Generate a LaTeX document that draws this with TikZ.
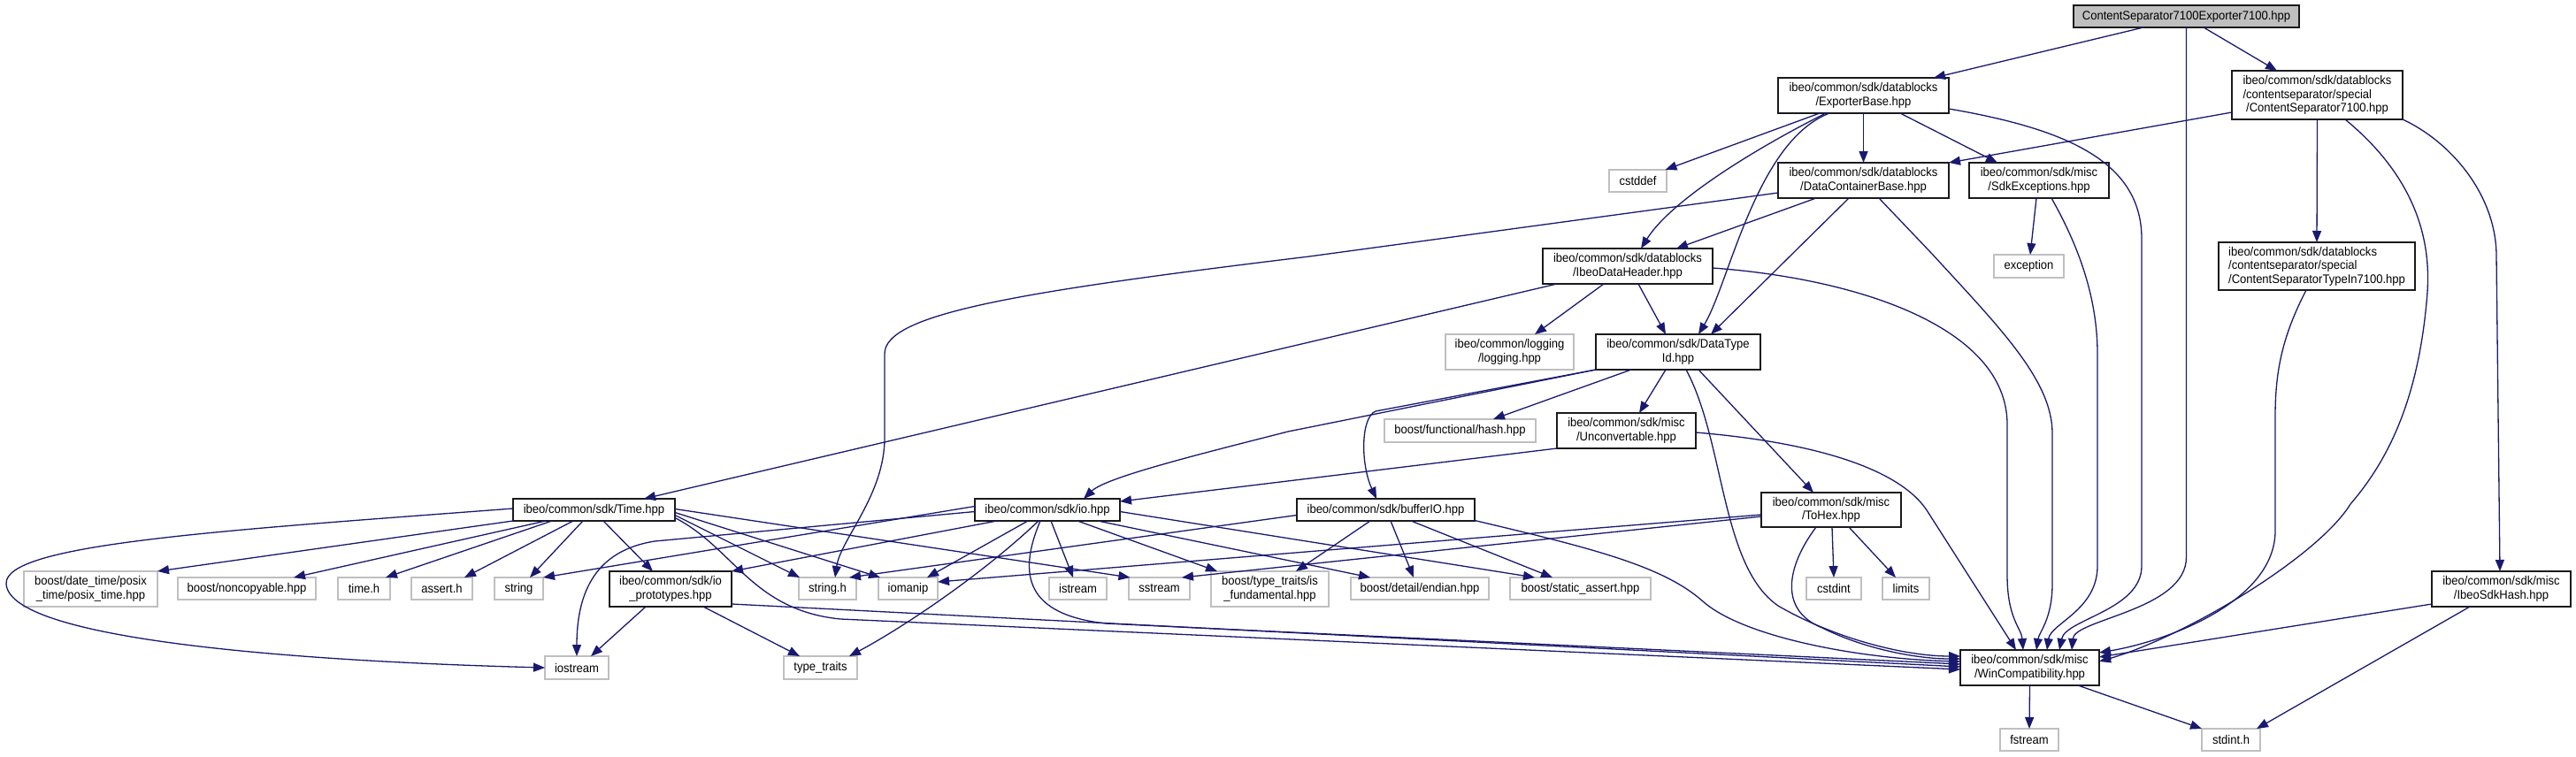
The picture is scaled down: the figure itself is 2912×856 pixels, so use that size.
\documentclass[tikz,border=0pt]{standalone}
\usepackage{fontspec}
\setmainfont{Liberation Sans}[FakeStretch=0.93]
\usetikzlibrary{arrows.meta}
\definecolor{edgec}{HTML}{191970}
\definecolor{extc}{HTML}{BFBFBF}
\definecolor{rootc}{HTML}{BFBFBF}
\definecolor{docc}{HTML}{1A1A1A}
\tikzset{
  box/.style={rectangle, inner sep=0pt, outer sep=0pt, align=center, fill=white,
    font=\fontsize{14}{15.4}\selectfont},
  doc/.style={box, draw=docc, line width=1.6pt},
  ext/.style={box, draw=extc, line width=1.6pt},
  sz/.style 2 args={minimum width=#1pt, minimum height=#2pt},
  e/.style={draw=edgec, line width=1.3pt, -{Triangle[length=13pt,width=10pt]}},
}
\begin{document}
\begin{tikzpicture}[x=1pt,y=-1pt]
\fill[white] (0,0) rectangle (2912,856);
\useasboundingbox (0,0) rectangle (2912,856);
% ---------------- nodes
\node[doc, fill=rootc, sz={255}{25}] (root) at (2471.5,18.5) {ContentSeparator7100Exporter7100.hpp};
\node[doc, sz={193}{40}] (exb) at (2106.5,108) {ibeo/common/sdk/datablocks\\/ExporterBase.hpp};
\node[doc, sz={193}{55}, align=left] (cs) at (2619.5,107.5) {ibeo/common/sdk/datablocks\\/contentseparator/special\\\ /ContentSeparator7100.hpp};
\node[doc, sz={193}{40}] (dcb) at (2106.5,204) {ibeo/common/sdk/datablocks\\/DataContainerBase.hpp};
\node[doc, sz={158}{40}] (sdkex) at (2305,204) {ibeo/common/sdk/misc\\/SdkExceptions.hpp};
\node[ext, sz={65}{25}] (cstddef) at (1851.5,204.5) {cstddef};
\node[doc, sz={192}{40}] (idh) at (1840,301) {ibeo/common/sdk/datablocks\\/IbeoDataHeader.hpp};
\node[ext, sz={79}{26}] (exc) at (2293.5,301) {exception};
\node[doc, sz={222}{54}, align=left] (csti) at (2619,301) {ibeo/common/sdk/datablocks\\/contentseparator/special\\/ContentSeparatorTypeIn7100.hpp};
\node[ext, sz={145}{40}] (logging) at (1706.5,398) {ibeo/common/logging\\/logging.hpp};
\node[doc, sz={186}{40}] (dti) at (1897,398) {ibeo/common/sdk/DataType\\Id.hpp};
\node[ext, sz={171}{26}] (fhash) at (1650.5,487) {boost/functional/hash.hpp};
\node[doc, sz={157}{40}] (unconv) at (1838.5,487) {ibeo/common/sdk/misc\\/Unconvertable.hpp};
\node[doc, sz={183}{25}] (time) at (671.5,576.5) {ibeo/common/sdk/Time.hpp};
\node[doc, sz={164}{25}] (io) at (1184,576.5) {ibeo/common/sdk/io.hpp};
\node[doc, sz={201}{25}] (bufio) at (1566.5,576.5) {ibeo/common/sdk/bufferIO.hpp};
\node[doc, sz={158}{39}] (tohex) at (2070,576.5) {ibeo/common/sdk/misc\\/ToHex.hpp};
\node[ext, sz={151}{40}] (dt) at (102.5,666) {boost/date\_time/posix\\\_time/posix\_time.hpp};
\node[ext, sz={156}{25}] (nonc) at (279,665.5) {boost/noncopyable.hpp};
\node[ext, sz={59}{25}] (timeh) at (411.5,665.5) {time.h};
\node[ext, sz={69}{25}] (asserth) at (499.5,665.5) {assert.h};
\node[ext, sz={55}{25}] (string) at (586.5,665.5) {string};
\node[doc, sz={138}{40}] (iop) at (758,666) {ibeo/common/sdk/io\\\_prototypes.hpp};
\node[ext, sz={65}{25}] (stringh) at (935.5,665.5) {string.h};
\node[ext, sz={67}{25}] (iomanip) at (1026.5,665.5) {iomanip};
\node[ext, sz={65}{25}] (istream) at (1218.5,665.5) {istream};
\node[ext, sz={69}{25}] (sstream) at (1310.5,665.5) {sstream};
\node[ext, sz={133}{40}] (isfund) at (1435.5,666) {boost/type\_traits/is\\\_fundamental.hpp};
\node[ext, sz={156}{25}] (endian) at (1605,665.5) {boost/detail/endian.hpp};
\node[ext, sz={159}{25}] (sassert) at (1786.5,665.5) {boost/static\_assert.hpp};
\node[ext, sz={62}{25}] (cstdint) at (2073,665.5) {cstdint};
\node[ext, sz={53}{25}] (limits) at (2154.5,665.5) {limits};
\node[doc, sz={157}{40}] (ish) at (2827.5,666) {ibeo/common/sdk/misc\\/IbeoSdkHash.hpp};
\node[ext, sz={72}{26}] (iostream) at (652,755) {iostream};
\node[ext, sz={83}{26}] (tt) at (927.5,755) {type\_traits};
\node[doc, sz={157}{40}] (wc) at (2294.5,755) {ibeo/common/sdk/misc\\/WinCompatibility.hpp};
\node[ext, sz={66}{25}] (fstream) at (2294,836.5) {fstream};
\node[ext, sz={66}{25}] (stdinth) at (2522,836.5) {stdint.h};
% ---------------- edges
% root
\draw[e] ([xshift=-48.5pt]root.south) -- ([xshift=79.5pt]exb.north);
\draw[e] ([xshift=19.5pt]root.south) -- ([xshift=-45.5pt]cs.north);
\draw[e] (root.south) -- (2471.5,630) .. controls (2471.5,690) and (2345,700) .. ([xshift=47.5pt]wc.north);
% exb
\draw[e] ([xshift=-49.5pt]exb.south) -- ([xshift=31pt]cstddef.north);
\draw[e] ([xshift=-42.5pt]exb.south) .. controls (1990,165) and (1890,225) .. ([xshift=15pt]idh.north);
\draw[e] ([xshift=-38.5pt]exb.south) .. controls (1985,160) and (1955,320) .. ([xshift=23pt]dti.north);
\draw[e] (exb.south) -- (dcb.north);
\draw[e] ([xshift=41.5pt]exb.south) -- ([xshift=-47pt]sdkex.north);
\draw[e] ([yshift=-15pt]exb.east) .. controls (2330,145) and (2421,180) .. (2421,270) -- (2421,640) .. controls (2421,690) and (2335,700) .. ([xshift=33.5pt]wc.north);
% cs
\draw[e] ([yshift=-19.5pt]cs.west) -- (dcb.north east);
\draw[e] (cs.south) -- (csti.north);
\draw[e] ([xshift=31.5pt]cs.south) .. controls (2730,200) and (2748,270) .. (2744,330) .. controls (2735,450) and (2700,520) .. (2657,570) .. controls (2620,630) and (2470,720) .. ([yshift=7pt]wc.east);
\draw[e] (cs.south east) .. controls (2770,160) and (2822,220) .. (2822,290) -- ([xshift=-1.5pt]ish.north);
% dcb
\draw[e] ([xshift=-53.5pt]dcb.south) -- ([xshift=55pt]idh.north);
\draw[e] ([xshift=-16.5pt]dcb.south) -- ([xshift=37pt]dti.north);
\draw[e] ([yshift=-14pt]dcb.west) -- (1480,290) .. controls (1150,330) and (1000,355) .. (1000,400) -- (1000,495) .. controls (1000,560) and (950,610) .. ([xshift=8.5pt]stringh.north);
\draw[e] ([xshift=17.5pt]dcb.south) -- (2184,287) .. controls (2260,370) and (2320,430) .. (2320,490) -- (2320,660) .. controls (2320,700) and (2305,715) .. ([xshift=7.5pt]wc.north);
% sdkex
\draw[e] ([xshift=-3pt]sdkex.south) -- ([xshift=1.5pt]exc.north);
\draw[e] ([xshift=14pt]sdkex.south) .. controls (2345,270) and (2371,330) .. (2371,400) -- (2371,640) .. controls (2371,690) and (2318,705) .. ([xshift=19.5pt]wc.north);
% idh
\draw[e] ([xshift=-27pt]idh.south) -- ([xshift=28.5pt]logging.north);
\draw[e] ([xshift=12pt]idh.south) -- ([xshift=-14pt]dti.north);
\draw[e] ([xshift=-80pt]idh.south) -- ([xshift=56.5pt]time.north);
\draw[e] ([yshift=-2pt]idh.east) .. controls (2100,315) and (2269,370) .. (2269,480) -- (2269,650) .. controls (2269,700) and (2285,710) .. ([xshift=-7.5pt]wc.north);
% csti
\draw[e] ([xshift=-12pt]csti.south) .. controls (2580,380) and (2572,420) .. (2572,470) -- (2572,600) .. controls (2572,680) and (2450,725) .. ([yshift=17pt]wc.east);
% ish
\draw[e] ([yshift=-17pt]ish.west) -- ([yshift=12pt]wc.east);
\draw[e] ([xshift=-35.5pt]ish.south) -- ([xshift=29pt]stdinth.north);
% wc
\draw[e] (wc.south) -- (fstream.north);
\draw[e] ([xshift=54.5pt]wc.south) -- (stdinth.north west);
% dti
\draw[e] ([xshift=-53pt]dti.south) -- ([xshift=37.5pt]fhash.north);
\draw[e] ([xshift=-14pt]dti.south) -- ([xshift=14.5pt]unconv.north);
\draw[e] ([xshift=23pt]dti.south) -- ([xshift=-20pt]tohex.north);
\draw[e] ([xshift=9pt]dti.south) .. controls (1950,500) and (1945,640) .. (2010,685) .. controls (2070,720) and (2150,742) .. ([yshift=13pt]wc.west);
\draw[e] (dti.south west) -- (1456,488) .. controls (1350,515) and (1250,540) .. ([xshift=41pt]io.north);
\draw[e] (dti.south west) -- (1555,465) .. controls (1538,472) and (1538,525) .. ([xshift=-10.5pt]bufio.north);
% unconv
\draw[e] (unconv.south west) -- ([yshift=9.5pt]io.east);
\draw[e] ([yshift=-2pt]unconv.east) .. controls (2050,500) and (2150,530) .. (2180,580) -- ([xshift=-15.5pt]wc.north);
% tohex
\draw[e] ([yshift=-5.5pt]tohex.west) -- ([yshift=7.5pt]iomanip.east);
\draw[e] ([yshift=-7.5pt]tohex.west) -- ([xshift=25.5pt]sstream.north);
\draw[e] ([xshift=1pt]tohex.south) -- (cstdint.north);
\draw[e] ([xshift=20pt]tohex.south) -- ([xshift=-11.5pt]limits.north);
\draw[e] ([xshift=-17pt]tohex.south) .. controls (2020,640) and (2010,690) .. (2060,710) .. controls (2110,735) and (2170,745) .. ([yshift=10pt]wc.west);
% bufio
\draw[e] ([xshift=-17.5pt]bufio.south) -- ([xshift=29.5pt]isfund.north);
\draw[e] ([xshift=5.5pt]bufio.south) -- ([xshift=-7pt]endian.north);
\draw[e] ([xshift=28.5pt]bufio.south) -- ([xshift=-31.5pt]sassert.north);
\draw[e] ([yshift=-6pt]bufio.west) -- ([xshift=24.5pt]stringh.north);
\draw[e] ([yshift=-12pt]bufio.east) .. controls (1800,620) and (1880,640) .. (1925,680) .. controls (1970,720) and (2100,745) .. ([yshift=7pt]wc.west);
% io
\draw[e] ([xshift=-57pt]io.south) -- (iop.north east);
\draw[e] ([xshift=-22pt]io.south) -- ([xshift=21.5pt]iomanip.north);
\draw[e] ([xshift=-10pt]io.south) .. controls (1110,650) and (1020,710) .. ([xshift=32.5pt]tt.north);
\draw[e] ([xshift=-8pt]io.south) .. controls (1150,650) and (1160,695) .. (1250,705) -- ([yshift=4pt]wc.west);
\draw[e] ([xshift=4pt]io.south) -- ([xshift=-5.5pt]istream.north);
\draw[e] ([xshift=34pt]io.south) -- ([xshift=-59.5pt]isfund.north);
\draw[e] ([xshift=57pt]io.south) -- ([xshift=-56pt]endian.north);
\draw[e] ([yshift=-2pt]io.east) -- ([xshift=-51.5pt]sassert.north);
\draw[e] ([yshift=4pt]io.west) -- (string.north east);
\draw[e] ([yshift=-2pt]io.west) -- (740,612) .. controls (690,620) and (652,650) .. (iostream.north);
% time
\draw[e] ([xshift=-91.5pt]time.south) -- (dt.north east);
\draw[e] ([xshift=-54.5pt]time.south) -- ([xshift=53pt]nonc.north);
\draw[e] ([xshift=-47.5pt]time.south) -- ([xshift=24.5pt]timeh.north);
\draw[e] ([xshift=-23.5pt]time.south) -- ([xshift=25.5pt]asserth.north);
\draw[e] ([xshift=-12.5pt]time.south) -- ([xshift=12.5pt]string.north);
\draw[e] ([xshift=10.5pt]time.south) -- ([xshift=-20pt]iop.north);
\draw[e] ([yshift=1.5pt]time.west) .. controls (250,600) and (5,615) .. (7,660) .. controls (10,725) and (350,748) .. (iostream.west);
\draw[e] ([yshift=-3pt]time.east) -- ([xshift=-31.5pt]iomanip.north);
\draw[e] ([yshift=-6pt]time.east) -- ([xshift=-31.5pt]stringh.north);
\draw[e] ([yshift=1pt]time.east) -- ([xshift=-33pt]sstream.north);
\draw[e] ([yshift=-9pt]time.east) .. controls (830,620) and (850,690) .. (950,700) -- ([yshift=-2pt]wc.west);
% iop
\draw[e] ([xshift=-28pt]iop.south) -- ([xshift=16pt]iostream.north);
\draw[e] ([xshift=37pt]iop.south) -- ([xshift=-23.5pt]tt.north);
\draw[e] ([yshift=-17pt]iop.east) -- ([yshift=1pt]wc.west);
\end{tikzpicture}
\end{document}
